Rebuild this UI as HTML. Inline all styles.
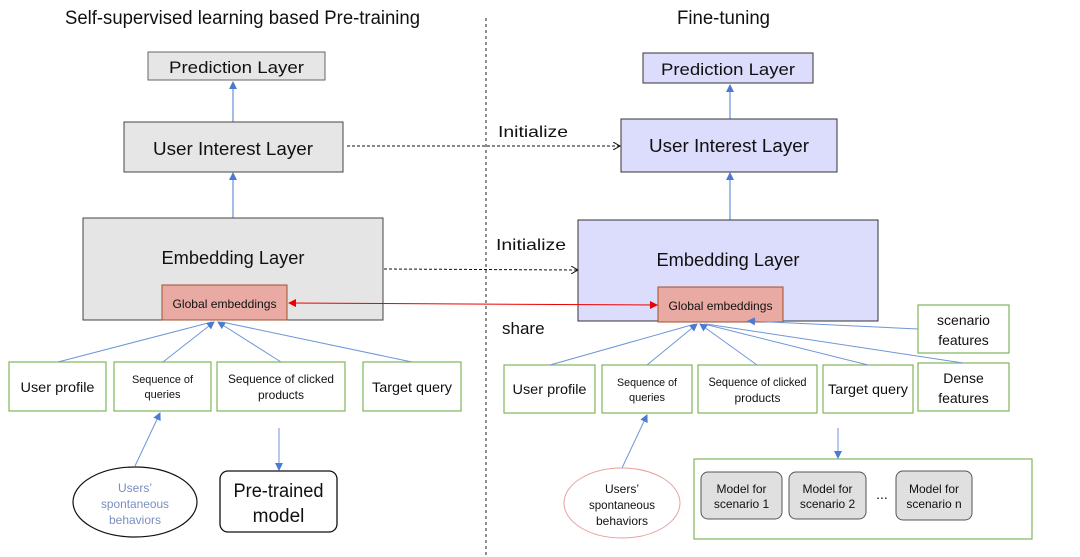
<!DOCTYPE html>
<html><head><meta charset="utf-8"><style>
html,body{margin:0;padding:0;background:#fff;}
svg{display:block;}
text{font-family:"Liberation Sans",sans-serif;fill:#111;}
</style></head><body>
<svg width="1080" height="557" viewBox="0 0 1080 557" xmlns="http://www.w3.org/2000/svg">
<defs>
<marker id="ab" markerWidth="8" markerHeight="8" refX="7" refY="4" orient="auto" markerUnits="userSpaceOnUse"><path d="M0,0 L8,4 L0,8 z" fill="#4a7bd0"/></marker>
<marker id="ar" markerWidth="8" markerHeight="8" refX="7" refY="4" orient="auto-start-reverse" markerUnits="userSpaceOnUse"><path d="M0,0 L8,4 L0,8 z" fill="#e00"/></marker>
<marker id="ard" markerWidth="8" markerHeight="8" refX="7" refY="4" orient="auto" markerUnits="userSpaceOnUse"><path d="M0,0 L7,4 L0,8" fill="none" stroke="#111" stroke-width="1"/></marker>
</defs>

<text x="65" y="24" font-size="19" textLength="355" lengthAdjust="spacingAndGlyphs">Self-supervised learning based Pre-training</text>
<text x="677" y="24" font-size="19" textLength="93" lengthAdjust="spacingAndGlyphs">Fine-tuning</text>
<line x1="486" y1="18" x2="486" y2="557" stroke="#222" stroke-dasharray="3,3"/>

<rect x="148" y="52" width="177" height="28" fill="#e6e6e6" stroke="#666"/>
<text x="236.5" y="73" font-size="17" text-anchor="middle" textLength="135" lengthAdjust="spacingAndGlyphs">Prediction Layer</text>
<line x1="233" y1="122" x2="233" y2="82" stroke="#4a7bd0" marker-end="url(#ab)"/>
<rect x="124" y="122" width="219" height="50" fill="#e6e6e6" stroke="#444"/>
<text x="233" y="155" font-size="18" text-anchor="middle" textLength="160" lengthAdjust="spacingAndGlyphs">User  Interest Layer</text>
<line x1="233" y1="218" x2="233" y2="173" stroke="#4a7bd0" marker-end="url(#ab)"/>
<rect x="83" y="218" width="300" height="102" fill="#e5e5e5" stroke="#444"/>
<text x="233" y="264" font-size="18" text-anchor="middle" textLength="143" lengthAdjust="spacingAndGlyphs">Embedding Layer</text>
<rect x="162" y="285" width="125" height="35" fill="#e8aaa3" stroke="#a0522d"/>
<text x="224.5" y="308" font-size="12" text-anchor="middle" textLength="104" lengthAdjust="spacingAndGlyphs">Global embeddings</text>

<g fill="none" stroke="#7fb85a" stroke-width="1.2">
<rect x="9" y="362" width="97" height="49"/>
<rect x="114" y="362" width="97" height="49"/>
<rect x="217" y="362" width="128" height="49"/>
<rect x="363" y="362" width="98" height="49"/>
</g>
<g stroke="#6f96d8" stroke-width="1" fill="none">
<line x1="58" y1="362" x2="212" y2="322"/>
<line x1="163" y1="362" x2="214" y2="322" marker-end="url(#ab)"/>
<line x1="281" y1="362" x2="218" y2="322" marker-end="url(#ab)"/>
<line x1="412" y1="362" x2="222" y2="322"/>
<line x1="135" y1="466" x2="160" y2="413" marker-end="url(#ab)"/>
<line x1="279" y1="428" x2="279" y2="470" marker-end="url(#ab)"/>
</g>
<text x="57.5" y="392" font-size="14" text-anchor="middle" textLength="74" lengthAdjust="spacingAndGlyphs">User profile</text>
<text x="162.5" y="383" font-size="11" text-anchor="middle" textLength="61" lengthAdjust="spacingAndGlyphs">Sequence of</text>
<text x="162.5" y="398" font-size="11" text-anchor="middle">queries</text>
<text x="281" y="383" font-size="12" text-anchor="middle" textLength="106" lengthAdjust="spacingAndGlyphs">Sequence of clicked</text>
<text x="281" y="399" font-size="12" text-anchor="middle">products</text>
<text x="412" y="392" font-size="14" text-anchor="middle" textLength="80" lengthAdjust="spacingAndGlyphs">Target query</text>

<ellipse cx="135" cy="502" rx="62" ry="35" fill="#fff" stroke="#111" stroke-width="1.2"/>
<text x="135" y="492" font-size="12" text-anchor="middle" style="fill:#7a8fc0">Users’</text>
<text x="135" y="508" font-size="12" text-anchor="middle" style="fill:#7a8fc0" textLength="68" lengthAdjust="spacingAndGlyphs">spontaneous</text>
<text x="135" y="524" font-size="12" text-anchor="middle" style="fill:#7a8fc0">behaviors</text>
<rect x="220" y="471" width="117" height="61" rx="8" fill="#fff" stroke="#111" stroke-width="1.3"/>
<text x="278.5" y="497" font-size="19" text-anchor="middle" textLength="90" lengthAdjust="spacingAndGlyphs">Pre-trained</text>
<text x="278.5" y="522" font-size="19" text-anchor="middle">model</text>

<line x1="347" y1="146" x2="620" y2="146" stroke="#111" stroke-dasharray="3,2" marker-end="url(#ard)"/>
<text x="498" y="137" font-size="16" textLength="70" lengthAdjust="spacingAndGlyphs">Initialize</text>
<line x1="384" y1="269" x2="578" y2="270" stroke="#111" stroke-dasharray="3,2" marker-end="url(#ard)"/>
<text x="496" y="250" font-size="16" textLength="70" lengthAdjust="spacingAndGlyphs">Initialize</text>
<text x="502" y="334" font-size="17">share</text>

<rect x="643" y="53" width="170" height="30" fill="#dcdcfc" stroke="#333"/>
<text x="728" y="75" font-size="17" text-anchor="middle" textLength="134" lengthAdjust="spacingAndGlyphs">Prediction Layer</text>
<line x1="730" y1="119" x2="730" y2="85" stroke="#4a7bd0" marker-end="url(#ab)"/>
<rect x="621" y="119" width="216" height="53" fill="#dcdcfc" stroke="#333"/>
<text x="729" y="152" font-size="18" text-anchor="middle" textLength="160" lengthAdjust="spacingAndGlyphs">User  Interest Layer</text>
<line x1="730" y1="220" x2="730" y2="173" stroke="#4a7bd0" marker-end="url(#ab)"/>
<rect x="578" y="220" width="300" height="101" fill="#dcdcfc" stroke="#333"/>
<text x="728" y="266" font-size="18" text-anchor="middle" textLength="143" lengthAdjust="spacingAndGlyphs">Embedding Layer</text>
<rect x="658" y="287" width="125" height="35" fill="#e8aaa3" stroke="#a0522d"/>
<text x="720.5" y="310" font-size="12" text-anchor="middle" textLength="104" lengthAdjust="spacingAndGlyphs">Global embeddings</text>

<line x1="289" y1="303" x2="657" y2="305" stroke="#e00" stroke-width="1" marker-end="url(#ar)" marker-start="url(#ar)"/>

<g fill="none" stroke="#7fb85a" stroke-width="1.2">
<rect x="504" y="365" width="91" height="48"/>
<rect x="602" y="365" width="90" height="48"/>
<rect x="698" y="365" width="119" height="48"/>
<rect x="823" y="365" width="90" height="48"/>
<rect x="918" y="363" width="91" height="48"/>
<rect x="918" y="305" width="91" height="48"/>
<rect x="694" y="459" width="338" height="80"/>
</g>
<g stroke="#6f96d8" stroke-width="1" fill="none">
<line x1="550" y1="365" x2="695" y2="324"/>
<line x1="647" y1="365" x2="697" y2="324" marker-end="url(#ab)"/>
<line x1="757" y1="365" x2="700" y2="324" marker-end="url(#ab)"/>
<line x1="868" y1="365" x2="704" y2="324"/>
<line x1="963" y1="363" x2="706" y2="324"/>
<line x1="918" y1="329" x2="748" y2="321" marker-end="url(#ab)"/>
<line x1="622" y1="468" x2="647" y2="415" marker-end="url(#ab)"/>
<line x1="838" y1="428" x2="838" y2="458" marker-end="url(#ab)"/>
</g>
<text x="549.5" y="394" font-size="14" text-anchor="middle" textLength="74" lengthAdjust="spacingAndGlyphs">User profile</text>
<text x="647" y="386" font-size="11" text-anchor="middle" textLength="60" lengthAdjust="spacingAndGlyphs">Sequence of</text>
<text x="647" y="401" font-size="11" text-anchor="middle">queries</text>
<text x="757.5" y="386" font-size="12" text-anchor="middle" textLength="98" lengthAdjust="spacingAndGlyphs">Sequence of clicked</text>
<text x="757.5" y="402" font-size="12" text-anchor="middle">products</text>
<text x="868" y="394" font-size="14" text-anchor="middle" textLength="80" lengthAdjust="spacingAndGlyphs">Target query</text>
<text x="963.5" y="383" font-size="14" text-anchor="middle">Dense</text>
<text x="963.5" y="403" font-size="14" text-anchor="middle">features</text>
<text x="963.5" y="325" font-size="14" text-anchor="middle">scenario</text>
<text x="963.5" y="345" font-size="14" text-anchor="middle">features</text>

<ellipse cx="622" cy="503" rx="58" ry="35" fill="#fff" stroke="#e8a0a0" stroke-width="1"/>
<text x="622" y="493" font-size="12" text-anchor="middle">Users’</text>
<text x="622" y="509" font-size="12" text-anchor="middle" textLength="66" lengthAdjust="spacingAndGlyphs">spontaneous</text>
<text x="622" y="525" font-size="12" text-anchor="middle">behaviors</text>

<g fill="#e0e0e0" stroke="#555" stroke-width="1">
<rect x="701" y="472" width="81" height="47" rx="7"/>
<rect x="789" y="472" width="77" height="47" rx="7"/>
<rect x="896" y="471" width="76" height="49" rx="7"/>
</g>
<text x="741.5" y="493" font-size="12" text-anchor="middle">Model for</text>
<text x="741.5" y="508" font-size="12" text-anchor="middle">scenario 1</text>
<text x="827.5" y="493" font-size="12" text-anchor="middle">Model for</text>
<text x="827.5" y="508" font-size="12" text-anchor="middle">scenario 2</text>
<text x="882" y="499" font-size="14" text-anchor="middle">...</text>
<text x="934" y="493" font-size="12" text-anchor="middle">Model for</text>
<text x="934" y="508" font-size="12" text-anchor="middle">scenario n</text>
</svg>
</body></html>
